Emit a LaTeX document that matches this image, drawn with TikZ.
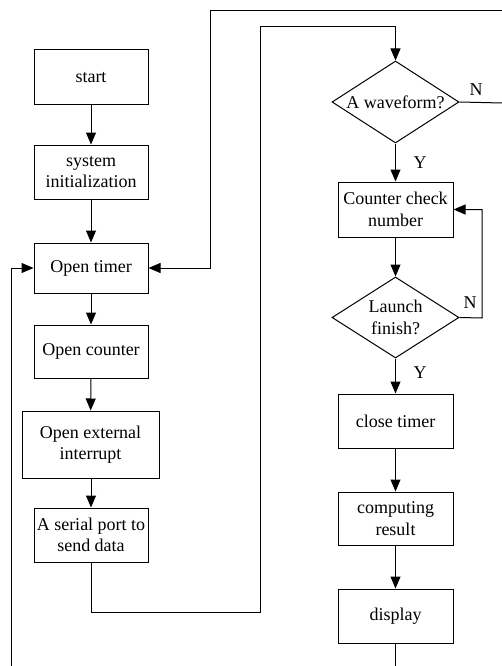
\documentclass[tikz,border=0pt]{standalone}
\usepackage{fontspec}
\setmainfont{Liberation Serif}
\usetikzlibrary{shapes.geometric,arrows.meta}
\begin{document}
\begin{tikzpicture}[x=1pt,y=-1pt,
  every node/.style={font=\fontsize{18}{21.5}\selectfont},
  box/.style={draw,line width=1pt,rectangle,inner sep=0pt,align=center,minimum width=114pt,minimum height=54pt},
  dia/.style={draw,line width=1pt,diamond,inner sep=0pt,align=center,aspect=1.55,minimum width=127pt,minimum height=82pt},
  line/.style={line width=1pt},
  arr/.style={line width=1pt,-{Triangle[length=12pt,width=10pt]}},
  lab/.style={inner sep=0pt}]
\useasboundingbox (0,0) rectangle (502,666);
% left column
\node[box,minimum height=55pt] (start) at (91,77.5) {start};
\node[box] (init) at (91,172) {system\\initialization};
\node[box,minimum height=50pt] (timer) at (91,268) {Open timer};
\node[box,minimum height=53pt] (counter) at (91,351.5) {Open counter};
\node[box,minimum width=137pt,minimum height=67pt] (ext) at (90.5,444.5) {Open external\\interrupt};
\node[box] (serial) at (91,535) {A serial port to\\send data};
% right column
\node[dia] (wave) at (395.5,102) {A waveform?};
\node[box,minimum width=115pt,minimum height=55pt] (count) at (395.5,209.5) {Counter check\\number};
\node[dia,minimum height=81pt] (launch) at (395.5,317.5) {Launch\\finish?};
\node[box,minimum width=115pt] (close) at (395.5,421) {close timer};
\node[box,minimum width=115pt,minimum height=53pt] (comp) at (395.5,518.5) {computing\\result};
\node[box,minimum width=115pt] (disp) at (395.5,616) {display};
% coordinates
\coordinate (s1) at (91,612);
\coordinate (s2) at (260,612);
\coordinate (s3) at (260,27);
\coordinate (t1) at (502,10.5);
\coordinate (t2) at (210,10.5);
\coordinate (wN) at (502,103);
\coordinate (lN) at (482,318);
\coordinate (dB) at (395.5,666);
\coordinate (fB) at (11,666);
% labels
\node[lab] (n1) at (476,90) {N};
\node[lab] (y1) at (420,163) {Y};
\node[lab] (n2) at (470,303) {N};
\node[lab] (y2) at (420,373) {Y};
% connectors
\draw[arr] (start) -- (init);
\draw[arr] (init) -- (timer);
\draw[arr] (timer) -- (counter);
\draw[arr] (counter) -- (ext);
\draw[arr] (ext.south -| serial.north) -- (serial.north);
\draw[arr] (serial.south) -- (s1) -- (s2) -- (s3) -| (wave.north);
\draw[arr] (t1) -- (t2) |- (timer.east);
\draw[line] (wave.east) -- (wN);
\draw[arr] (wave.south) -- (count.north);
\draw[arr] (count.south) -- (launch.north);
\draw[arr] (launch.east) -- (lN) |- (count.east);
\draw[arr] (launch.south) -- (close.north);
\draw[arr] (close) -- (comp);
\draw[arr] (comp) -- (disp);
\draw[line] (disp.south) -- (dB);
\draw[arr] (fB) |- (timer.west);
\end{tikzpicture}
\end{document}
